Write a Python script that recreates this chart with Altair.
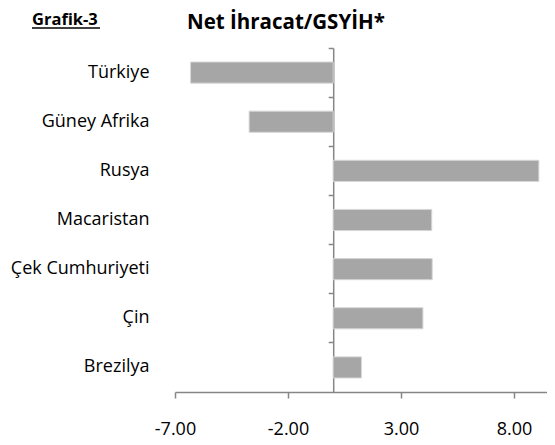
import altair as alt
import pandas as pd

countries = ["Türkiye", "Güney Afrika", "Rusya", "Macaristan", "Çek Cumhuriyeti", "Çin", "Brezilya"]
values = [-6.31, -3.72, 9.10, 4.36, 4.38, 3.97, 1.25]
x_ticks = [-7, -2, 3, 8]
x_min, x_max = -7, 9.46
title_text = "Net İhracat/GSYİH*"
label_text = "Grafik-3"

W, H = 372, 344
FONT = "Open Sans"
AXIS_COLOR = "#868686"

df = pd.DataFrame({"country": countries, "value": values})
zero_offset = -W * (0 - x_min) / (x_max - x_min)

xscale = alt.Scale(domain=[x_min, x_max], nice=False, zero=False)
yscale = alt.Scale(domain=countries, paddingInner=0, paddingOuter=0)

bars = alt.Chart(df).mark_bar(
    height={"band": 0.43}, color="#a6a6a6", stroke="#d6d6d6", strokeWidth=1
).encode(
    x=alt.X("value:Q", scale=xscale, title=None,
            axis=alt.Axis(values=x_ticks, grid=False, domainColor=AXIS_COLOR, labelFlush=False,
                          labelExpr="(datum.value < 0 ? '-' : '') + format(abs(datum.value), '.2f')",
                          tickColor=AXIS_COLOR, tickSize=6, domainWidth=1.5, tickWidth=1.5,
                          labelFont=FONT, labelFontSize=18, labelColor="black",
                          labelPadding=22)),
    y=alt.Y("country:N", scale=yscale, sort=countries, title=None,
            axis=alt.Axis(domain=False, ticks=False, labelFont=FONT, labelFontSize=18,
                          labelColor="black", labelPadding=26)),
)

ticks_layer = alt.Chart(df).mark_bar(opacity=0).encode(
    y=alt.Y("country:N", scale=yscale, sort=countries, title=None,
            axis=alt.Axis(orient="left", offset=zero_offset, labels=False, domain=True,
                          ticks=True, bandPosition=0, tickSize=5, tickColor=AXIS_COLOR,
                          domainColor=AXIS_COLOR, domainWidth=1.5, tickWidth=1.5)),
)

lbl = pd.DataFrame({"t": [label_text]})
grafik = alt.Chart(lbl).mark_text(
    font=FONT, fontSize=16.5, fontWeight="bold", align="left", baseline="alphabetic", color="black"
).encode(text="t:N", x=alt.value(-143), y=alt.value(-23))
underline = alt.Chart(lbl).mark_rule(color="black", strokeWidth=1.5).encode(
    x=alt.value(-143), x2=alt.value(-75), y=alt.value(-20)
)

ttl = pd.DataFrame({"t": [title_text]})
title_mark = alt.Chart(ttl).mark_text(
    font=FONT, fontSize=20.5, fontWeight="bold", align="left", baseline="alphabetic", color="black"
).encode(text="t:N", x=alt.value(12), y=alt.value(-19))

chart = alt.layer(bars, ticks_layer, grafik, underline, title_mark).resolve_axis(y="independent").properties(
    width=W, height=H,
    autosize=alt.AutoSizeParams(type="none"),
    padding={"left": 167, "top": 40, "right": 0, "bottom": 52},
).configure_view(stroke=None)

chart.save("out.html", embed_options={"renderer": "svg", "actions": False})
